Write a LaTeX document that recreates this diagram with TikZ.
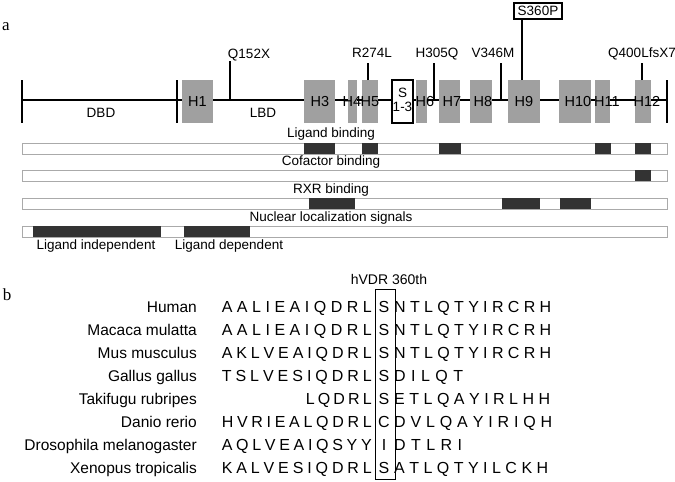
\documentclass[tikz,border=0pt]{standalone}
\usepackage{fontspec}
\setmainfont{Liberation Sans}
\newfontfamily\panelfont{Liberation Serif}
\usetikzlibrary{positioning,calc}
\definecolor{helixgray}{RGB}{160,160,160}
\definecolor{bargray}{RGB}{170,170,170}
\definecolor{segdark}{RGB}{51,51,51}
\def\seqsplit#1#2\relax{#1\ifx\relax#2\relax\else\hfill\seqsplit#2\relax\fi}
\newcommand{\seqpart}[2]{\makebox[#1pt][s]{\seqsplit#2\relax}}
\newcommand{\helix}[5]{
  \node[helixbox,minimum width={(#3-#2)*1pt}] (#1) at ({(#2+#3)/2},101.5) {};
  \node[helixlabel] (#1lbl) at (#4,101) {#5};
}
\newcommand{\seqrow}[8]{
  \node[species,anchor=east] (#1) at (197,#2) {#3};
  \node[seq,anchor=east] (#1l) at (372,#2) {\seqpart{#5}{#4}};
  \node[seq] (#1m) at (384,#2) {#6};
  \node[seq,anchor=west] (#1r) at (394,#2) {\seqpart{#8}{#7}};
}

\begin{document}
\begin{tikzpicture}[x=1pt,y=-1pt,
  lbl/.style={inner sep=0pt,font=\fontsize{13.5}{16}\selectfont,text height=9.7pt,text depth=0pt},
  helixbox/.style={fill=helixgray,draw=none,inner sep=0pt,minimum height=43pt},
  helixlabel/.style={inner sep=0pt,font=\fontsize{14.5}{16}\selectfont,text height=10.4pt,text depth=0pt},
  domline/.style={line width=1.3pt},
  bar/.style={draw=bargray,fill=white,line width=0.8pt,inner sep=0pt,minimum width=645pt,minimum height=11pt},
  species/.style={inner sep=0pt,font=\fontsize{15.5}{18}\selectfont,text height=11pt,text depth=0pt},
  seq/.style={inner sep=0pt,font=\fontsize{16}{18}\selectfont,text height=11.5pt,text depth=0pt},
  panel/.style={inner sep=0pt,font=\panelfont\fontsize{17}{20}\selectfont}]
  \useasboundingbox (0,0) rectangle (675,482);

  \node[panel] (pa) at (6,27) {a};
  \node[panel] (pb) at (7,295) {b};

  \coordinate (dbdl) at (22,100);
  \coordinate (dbdr) at (177,100);
  \coordinate (lbdr) at (667,100);
  \draw[domline] (dbdl) -- (lbdr);
  \draw[domline] ($(dbdl)+(0,-20)$) -- ($(dbdl)+(0,23)$);
  \draw[domline] ($(dbdr)+(0,-20)$) -- ($(dbdr)+(0,23)$);
  \draw[domline] ($(lbdr)+(0,-20)$) -- ($(lbdr)+(0,23)$);
  \node[lbl] (dbd) at (101,113) {DBD};
  \node[lbl] (lbd) at (263,113) {LBD};

  \helix{h1}{182}{213}{197.5}{H1}
  \helix{h3}{304}{335}{320}{H3}
  \helix{h4}{348}{357}{352}{H4}
  \helix{h5}{362}{378}{370}{H5}
  \node[draw,fill=white,line width=1.3pt,inner sep=0pt,minimum width=21pt,minimum height=43pt] (sbox) at (402.5,101.5) {};
  \node[inner sep=0pt,align=center,font=\fontsize{13.5}{14}\selectfont] (slbl) at (402.5,99.5) {S\\1-3};
  \helix{h6}{416}{427}{425}{H6}
  \helix{h7}{439}{460}{452}{H7}
  \helix{h8}{470}{492}{483}{H8}
  \helix{h9}{508}{540}{524}{H9}
  \helix{h10}{559}{591}{578}{H10}
  \helix{h11}{595}{610}{607}{H11}
  \helix{h12}{635}{651}{647}{H12}

  \node[lbl] (q152x) at (249,54) {Q152X};
  \coordinate (q152xbot) at (230,100);
  \coordinate (q152xtop) at (230,61);
  \draw[domline] (q152xbot) -- (q152xtop);
  \node[lbl] (r274l) at (372,53) {R274L};
  \coordinate (r274lbot) at (368,80);
  \coordinate (r274ltop) at (368,63);
  \draw[domline] (r274lbot) -- (r274ltop);
  \node[lbl] (h305q) at (437,53) {H305Q};
  \coordinate (h305qbot) at (434,100);
  \coordinate (h305qtop) at (434,63);
  \draw[domline] (h305qbot) -- (h305qtop);
  \node[lbl] (v346m) at (493,53) {V346M};
  \coordinate (v346mbot) at (501,100);
  \coordinate (v346mtop) at (501,63);
  \draw[domline] (v346mbot) -- (v346mtop);
  \node[lbl,draw,line width=1.3pt,minimum width=48pt,minimum height=16pt,text height=9.7pt] (s360p) at (538,11) {S360P};
  \coordinate (s360pbot) at (522,80);
  \draw[domline] (s360pbot) -- (s360pbot |- s360p.south);
  \node[lbl] (q400l) at (642,53) {Q400LfsX7};
  \coordinate (q400lbot) at (642,80);
  \coordinate (q400ltop) at (642,63);
  \draw[domline] (q400lbot) -- (q400ltop);

  \node[lbl] (ligbind) at (331,133) {Ligand binding};
  \node[bar] (ligbar) at (344.5,148.5) {};
  \foreach \a/\b in {304/335,362/378,439/461,595/611,635/651}
    \fill[segdark] (\a,143) rectangle (\b,154);
  \node[lbl] (cofbind) at (331,161) {Cofactor binding};
  \node[bar] (cofbar) at (344.5,175.5) {};
  \fill[segdark] (635,170) rectangle (651,181);
  \node[lbl] (rxrbind) at (331,189) {RXR binding};
  \node[bar] (rxrbar) at (344.5,203.5) {};
  \foreach \a/\b in {309/355,502/540,560/591}
    \fill[segdark] (\a,198) rectangle (\b,209);
  \node[lbl] (nucsig) at (331,217) {Nuclear localization signals};
  \node[bar] (nucbar) at (344.5,231.5) {};
  \foreach \a/\b in {33/161,184/250}
    \fill[segdark] (\a,226) rectangle (\b,237);
  \node[lbl] (ligind) at (96,245) {Ligand independent};
  \node[lbl] (ligdep) at (229,245) {Ligand dependent};

  \node[lbl,font=\fontsize{14}{16}\selectfont] (hvdr) at (389,280) {hVDR 360th};
  \node[draw,line width=0.9pt,inner sep=0pt,minimum width=20pt,minimum height=190pt] (hvdrbox) at (385,384) {};

  \seqrow{human}{307}{Human}{AALIEAIQDRL}{150}{S}{NTLQTYIRCRH}{157}
  \seqrow{macaca}{330}{Macaca mulatta}{AALIEAIQDRL}{150}{S}{NTLQTYIRCRH}{157}
  \seqrow{mus}{353}{Mus musculus}{AKLVEAIQDRL}{150}{S}{NTLQTYIRCRH}{157}
  \seqrow{gallus}{376}{Gallus gallus}{TSLVESIQDRL}{150}{S}{DILQT}{69}
  \seqrow{takifugu}{399}{Takifugu rubripes}{LQDRL}{66}{S}{ETLQAYIRLHH}{156}
  \seqrow{danio}{422}{Danio rerio}{HVRIEALQDRL}{150}{C}{DVLQAYIRIQH}{158}
  \seqrow{droso}{445}{Drosophila melanogaster}{AQLVEAIQSYY}{150}{I}{DTLRI}{68}
  \seqrow{xenopus}{468}{Xenopus tropicalis}{KALVESIQDRL}{150}{S}{ATLQTYILCKH}{154}
\end{tikzpicture}
\end{document}
